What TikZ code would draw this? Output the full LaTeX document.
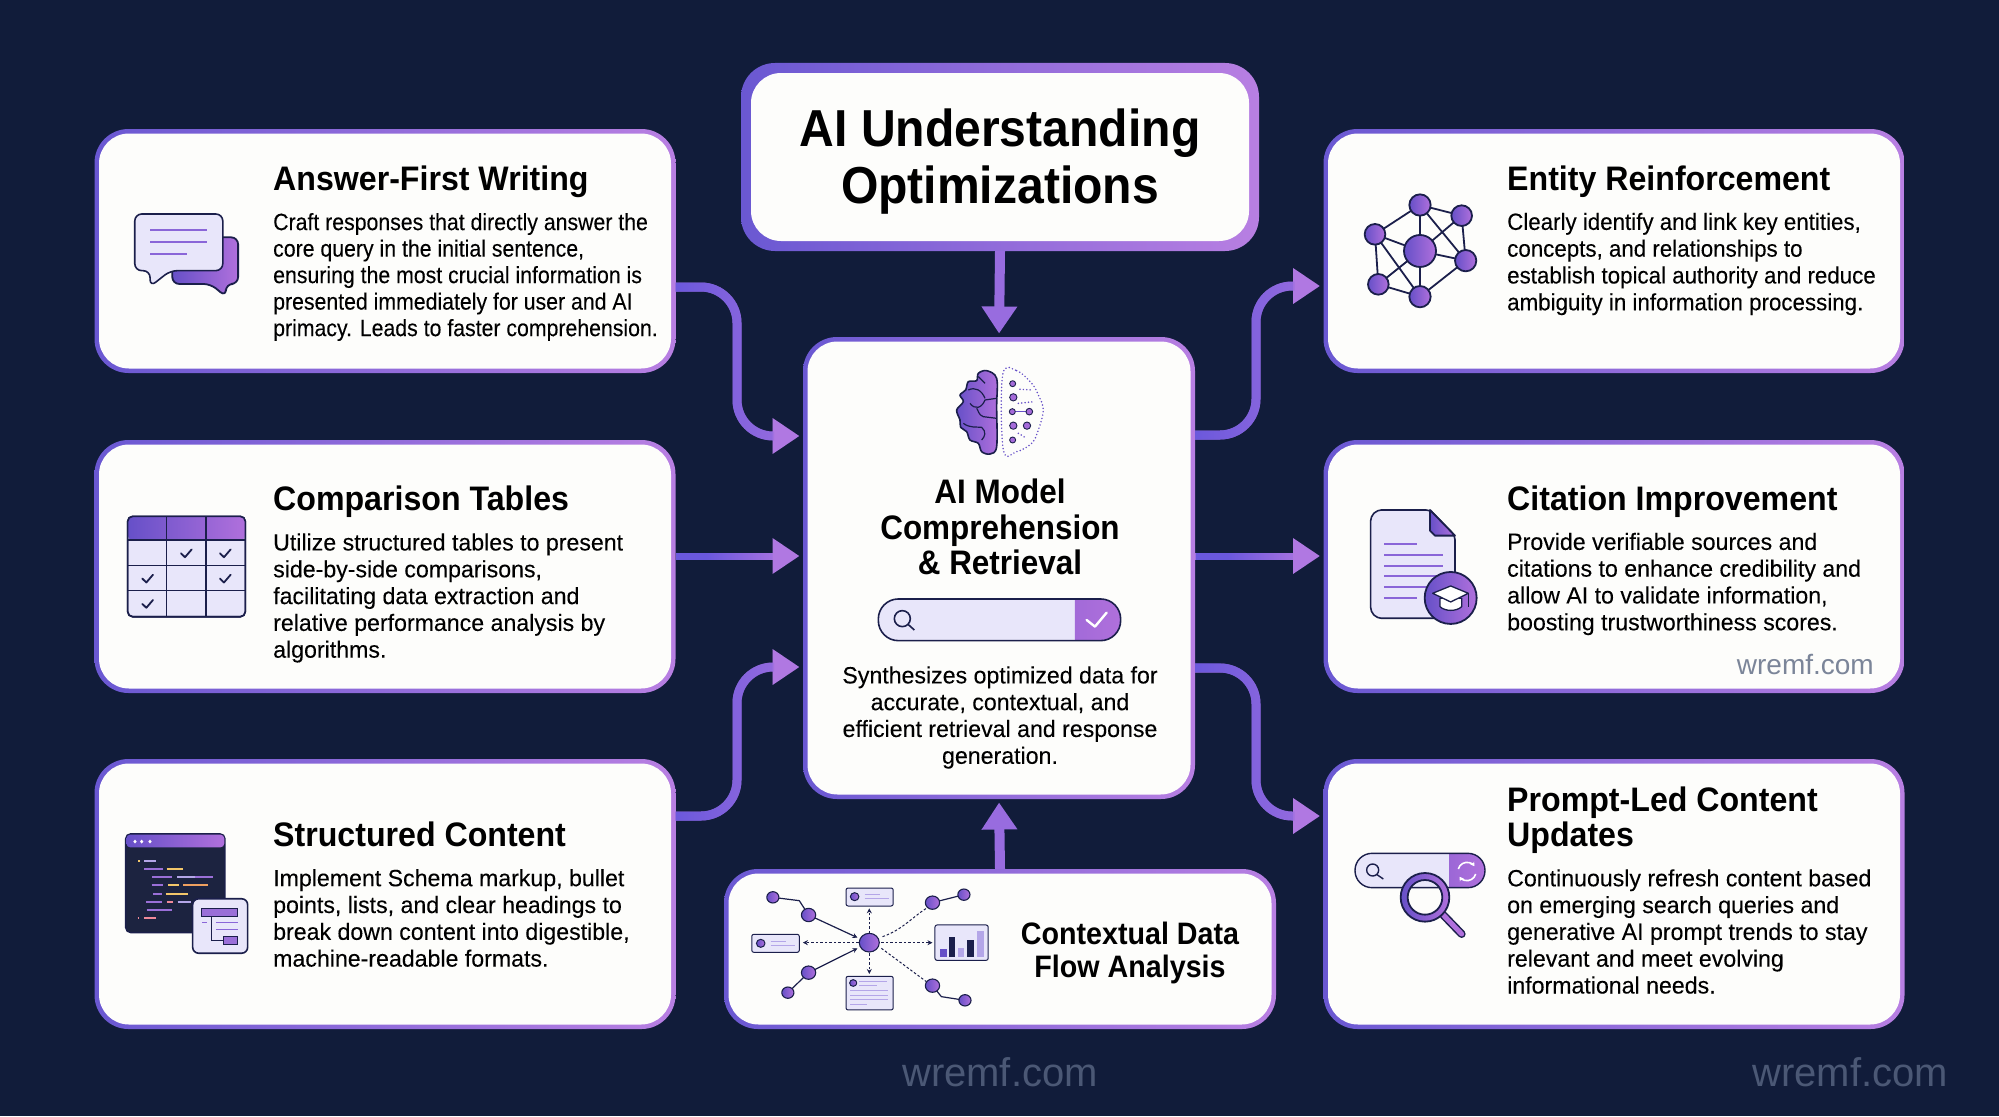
\documentclass[tikz,border=0pt]{standalone}
\usepackage{fontspec}
\usetikzlibrary{arrows.meta,calc,fadings}
\setmainfont{Liberation Sans}
\newfontfamily\bodyfont[FakeStretch=0.985,FakeBold=0.12]{Liberation Sans}
\newfontfamily\bodyans[FakeStretch=0.905,FakeBold=0.12]{Liberation Sans}
\newfontfamily\bodyent[FakeStretch=0.95,FakeBold=0.12]{Liberation Sans}
\newfontfamily\headfont[FakeStretch=0.945]{Liberation Sans}
\newfontfamily\bigfont[FakeStretch=0.925]{Liberation Sans}
\definecolor{pagebg}{HTML}{111C3A}
\definecolor{cardfill}{HTML}{FDFDFB}
\definecolor{edgeA}{HTML}{6A58D2}
\definecolor{edgeB}{HTML}{B87FE2}
\definecolor{flowline}{HTML}{A070E0}
\definecolor{flowdeep}{HTML}{6A58DC}
\definecolor{flowtip}{HTML}{B078E2}
\definecolor{inkblue}{HTML}{1B1F4B}
\definecolor{paleicon}{HTML}{E8E6FA}
\definecolor{iconA}{HTML}{6650C8}
\definecolor{iconB}{HTML}{B070DC}
\definecolor{lineviolet}{HTML}{8A66D8}
\definecolor{codebg}{HTML}{1C2340}
\definecolor{codeP}{HTML}{9A6FD8}
\definecolor{codeL}{HTML}{B4A6E8}
\definecolor{codeY}{HTML}{F2C66A}
\definecolor{codeO}{HTML}{EFA060}
\definecolor{codeR}{HTML}{F08A9A}
\definecolor{markdim}{HTML}{4B5875}
\definecolor{markbox}{HTML}{7B8599}
\tikzset{
  card/.style={rectangle,rounded corners=34pt,left color=edgeA,right color=edgeB,inner sep=0pt,outer sep=0pt},
  flowbase/.style={draw=flowline,line width=9pt,rounded corners=36pt,shorten >=3.5pt,
    -{Triangle[length=27pt,width=34pt,color=flowtip]}},
  flow/.style={flowbase,postaction={draw=flowdeep,path fading=east}},
  flowbar/.style={flowbase,line width=7pt,postaction={draw=flowdeep,path fading=east,fit fading=false,
    fading transform={shift={(#1,556)},xscale=1.25}}},
  flowplain/.style={draw=flowline!85!flowdeep,line width=10pt,shorten >=3.5pt,
    -{Triangle[length=27pt,width=34pt,color=flowline!85!flowdeep]}},
  headtext/.style={inner sep=0pt,font=\headfont\bfseries\fontsize{34}{35.5}\selectfont,align=left,text=black},
  bodytext/.style={inner sep=0pt,font=\bodyfont\fontsize{23.5}{26.8}\selectfont,align=left,text=black},
  orb/.style={left color=iconA,right color=iconB,draw=inkblue,line width=1.8pt},
  pale/.style={fill=paleicon,draw=inkblue,line width=1.6pt},
  ruleline/.style={draw=lineviolet,line width=1.9pt},
  tick/.style={draw=inkblue,line width=1.8pt,line cap=round,line join=round},
  flowdash/.style={draw=inkblue,line width=1pt,dash pattern=on 2.5pt off 2pt,-{Stealth[length=5pt,width=5pt]}}
}
\begin{document}
\begin{tikzpicture}[x=1pt,y=-1pt]
  \useasboundingbox (0,0) rectangle (1999,1116);
  \fill[pagebg] (0,0) rectangle (1999,1116);
  % cards
  \foreach \cardname/\cx/\cy/\cw/\ch/\bw in {
    ans/385/251/581/244/4.5, cmp/385/566.5/581/253/4.5, struct/385/894/581/270/4.5,
    ent/1614/251/581/244/4.5, cit/1614/566.5/581/253/4.5, prompt/1614/894/581/270/4.5,
    title/1000/157/518/188/10, model/999/568/392/462/4.5, flowbox/1000/949/552/160/4.5} {
    \node[card,minimum width=\cw pt,minimum height=\ch pt] (\cardname) at (\cx,\cy) {};
    \fill[cardfill,rounded corners=30pt] ($(\cardname.south west)+(\bw,-\bw)$) rectangle ($(\cardname.north east)+(-\bw,\bw)$);
  }
  % connectors
  \draw[flow] ([yshift=-36pt]ans.east) -- (737,287) -- (737,436) -- ([yshift=132pt]model.west);
  \draw[flowbar=737] ([yshift=10.5pt]cmp.east) -- ([yshift=12pt]model.west);
  \draw[flow] ([yshift=78pt]struct.east) -- (737,816) -- (737,667) -- ([yshift=-99pt]model.west);
  \draw[flow] ([yshift=133pt]model.east) -- (1256,435) -- (1256,286) -- ([yshift=-35pt]ent.west);
  \draw[flowbar=1258] ([yshift=12pt]model.east) -- ([yshift=10.5pt]cit.west);
  \draw[flow] ([yshift=-100pt]model.east) -- (1256,668) -- (1256,816) -- ([yshift=78pt]prompt.west);
  \draw[flowplain] (title.south) -- (model.north);
  \draw[flowplain] (flowbox.north) -- (model.south);
  % texts
  \node[headtext,font=\bigfont\bfseries\fontsize{52}{56.5}\selectfont,align=center] (titletext) at (1000,161.5) {AI Understanding\\Optimizations};
  \node[headtext,anchor=west] (anshead) at (273,182) {Answer-First Writing};
  \node[bodytext,font=\bodyans\fontsize{23.5}{26.5}\selectfont,anchor=west] (ansbody) at (273,277) {Craft responses that directly answer the\\core query in the initial sentence,\\ensuring the most crucial information is\\presented immediately for user and AI\\primacy. Leads to faster comprehension.};
  \node[headtext,anchor=west] (cmphead) at (273,502) {Comparison Tables};
  \node[bodytext,anchor=west] (cmpbody) at (273,598) {Utilize structured tables to present\\side-by-side comparisons,\\facilitating data extraction and\\relative performance analysis by\\algorithms.};
  \node[headtext,anchor=west] (structhead) at (273,834.5) {Structured Content};
  \node[bodytext,anchor=west] (structbody) at (273,918) {Implement Schema markup, bullet\\points, lists, and clear headings to\\break down content into digestible,\\machine-readable formats.};
  \node[headtext,anchor=west] (enthead) at (1507,182) {Entity Reinforcement};
  \node[bodytext,font=\bodyent\fontsize{23.5}{26.8}\selectfont,anchor=west] (entbody) at (1507,264) {Clearly identify and link key entities,\\concepts, and relationships to\\establish topical authority and reduce\\ambiguity in information processing.};
  \node[headtext,anchor=west] (cithead) at (1507,502) {Citation Improvement};
  \node[bodytext,anchor=west] (citbody) at (1507,584) {Provide verifiable sources and\\citations to enhance credibility and\\allow AI to validate information,\\boosting trustworthiness scores.};
  \node[headtext,anchor=west] (prompthead) at (1507,820) {Prompt-Led Content\\Updates};
  \node[bodytext,anchor=west] (promptbody) at (1507,931.5) {Continuously refresh content based\\on emerging search queries and\\generative AI prompt trends to stay\\relevant and meet evolving\\informational needs.};
  \node[headtext,font=\bigfont\bfseries\fontsize{34}{35.5}\selectfont,align=center] (modelhead) at (1000,527) {AI Model\\Comprehension\\\& Retrieval};
  \node[bodytext,align=center] (modelbody) at (1000,717.5) {Synthesizes optimized data for\\accurate, contextual, and\\efficient retrieval and response\\generation.};
  \node[headtext,align=center,font=\bigfont\bfseries\fontsize{31}{32.5}\selectfont] (flowhead) at (1130,953) {Contextual Data\\Flow Analysis};
  \node[inner sep=0pt,text=markbox,font=\fontsize{28}{30}\selectfont,anchor=east] (markcit) at (1874,664) {wremf.com};
  \node[inner sep=0pt,text=markdim,font=\fontsize{40}{44}\selectfont] (markmid) at (1000,1072) {wremf.com};
  \node[inner sep=0pt,text=markdim,font=\fontsize{40}{44}\selectfont] (markright) at (1850,1072) {wremf.com};
  % chat icon
  \begin{scope}[shift={(90,120)},x=0.3827pt,y=-0.3333pt,line join=round]
    \draw[orb,rounded corners=7pt] (215,352) -- (387,352) -- (387,492) -- (355,492) -- (355,530) -- (315,492) -- (215,492) -- cycle;
    \draw[pale,rounded corners=7pt] (117,282) -- (347,282) -- (347,452) -- (210,452) -- (157,500) -- (157,452) -- (117,452) -- cycle;
    \foreach \ya/\xb in {330/307,367/307,403/253}
      \draw[ruleline] (157,\ya) -- (\xb,\ya);
  \end{scope}
  % table icon
  \begin{scope}[shift={(90,430)},x=0.3333pt,y=-0.389pt]
    \draw[pale,rounded corners=5pt] (113,222) rectangle (466,480);
    \shade[left color=iconA,right color=iconB,rounded corners=5pt] (113,222) rectangle (466,283);
    \draw[inkblue,line width=1.6pt,rounded corners=5pt] (113,222) rectangle (466,480);
    \foreach \ya in {283,348,413}
      \draw[inkblue,line width=1.6pt] (113,\ya) -- (466,\ya);
    \foreach \xa in {230,348}
      \draw[inkblue,line width=1.6pt] (\xa,222) -- (\xa,480);
    \foreach \xa/\ya in {288/317,405/317,172/382,405/382,172/447}
      \draw[tick] (\xa-15,\ya) -- (\xa-3,\ya+10) -- (\xa+17,\ya-10);
  \end{scope}
  % code icon
  \begin{scope}[shift={(90,430)},x=0.3333pt,y=-0.389pt]
    \draw[fill=codebg,draw=inkblue,line width=1.4pt,rounded corners=5pt] (107,1038) rectangle (405,1292);
    \shade[left color=iconA,right color=iconB,rounded corners=4pt] (109,1040) rectangle (403,1073);
    \foreach \xa in {135,155,180}
      \fill[white] (\xa,1058) circle[radius=5];
    \foreach \xa/\xb/\ya/\codecol in {145/150/1107/codeY,163/197/1107/codeL,163/218/1128/codeP,230/278/1128/codeY,187/247/1150/codeP,262/315/1150/codeL,315/370/1150/codeP,185/220/1170/codeP,235/268/1170/codeY,280/353/1170/codeO,190/215/1192/codeP,227/293/1192/codeY,168/217/1213/codeP,230/248/1213/codeR,263/303/1213/codeL,170/245/1234/codeP,143/148/1255/codeR,163/197/1255/codeR}
      \draw[\codecol,line width=2pt] (\xa,\ya) -- (\xb,\ya);
    \draw[pale,rounded corners=6pt] (308,1205) rectangle (473,1345);
    \draw[fill=codeP,draw=inkblue,line width=1pt] (335,1230) rectangle (443,1250);
    \draw[ruleline,line width=1pt] (337,1267) -- (350,1267) (378,1267) -- (445,1267) (378,1285) -- (445,1285);
    \draw[inkblue,line width=1.2pt] (365,1250) -- (365,1313) -- (400,1313);
    \draw[fill=codeP,draw=inkblue,line width=1pt] (400,1303) rectangle (443,1322);
  \end{scope}
  % entity icon
  \begin{scope}[shift={(1320,170)},x=0.3333pt,y=-0.3333pt]
    \coordinate (hub) at (300,243);
    \coordinate (na) at (300,105);
    \coordinate (nb) at (425,137);
    \coordinate (nc) at (437,272);
    \coordinate (nd) at (300,380);
    \coordinate (ne) at (175,343);
    \coordinate (nf) at (165,193);
    \foreach \from/\to in {hub/na,hub/nb,hub/nc,hub/nd,hub/ne,hub/nf,na/nb,nb/nc,nc/nd,nd/ne,ne/nf,nf/na,na/nc,nf/nd}
      \draw[inkblue,line width=1.8pt] (\from) -- (\to);
    \foreach \orbname/\orbr in {na/32,nb/31,nc/32,nd/32,ne/31,nf/31,hub/48}
      \draw[orb] (\orbname) circle[radius=\orbr];
  \end{scope}
  % citation icon
  \begin{scope}[shift={(1320,170)},x=0.3333pt,y=-0.3333pt,line join=round]
    \draw[pale,rounded corners=4pt] (330,1020) -- (172,1020) -- (152,1040) -- (152,1325) -- (172,1345) -- (385,1345) -- (405,1325) -- (405,1097) -- cycle;
    \draw[orb] (330,1020) -- (405,1097) -- (345,1097) -- (330,1082) -- cycle;
    \foreach \ya/\xb in {1121/290,1154/368,1187/368,1219/368,1251/340,1284/290}
      \draw[ruleline] (192,\ya) -- (\xb,\ya);
    \draw[orb] (392,1284) circle[radius=78];
    \draw[fill=white,draw=inkblue,line width=1.3pt] (360,1285) -- (360,1310) .. controls (375,1325) and (410,1325) .. (425,1310) -- (425,1285) -- cycle;
    \draw[fill=white,draw=inkblue,line width=1.3pt] (338,1270) -- (392,1248) -- (445,1270) -- (392,1296) -- cycle;
    \draw[inkblue,line width=1.3pt] (445,1270) -- (445,1312);
  \end{scope}
  % search icon
  \begin{scope}[shift={(1320,820)},x=0.3333pt,y=-0.3333pt]
    \fill[paleicon,rounded corners=17pt] (105,100) rectangle (495,203);
    \begin{scope}
      \clip (388,90) rectangle (505,215);
      \shade[left color=iconA,right color=iconB,rounded corners=17pt] (105,100) rectangle (495,203);
    \end{scope}
    \draw[inkblue,line width=1.4pt,rounded corners=17pt] (105,100) rectangle (495,203);
    \draw[inkblue,line width=1.4pt] (158,150) circle[radius=18] (171,164) -- (190,177);
    \draw[white,line width=1.6pt,-{Stealth[length=4pt,width=5pt]}] (415,147) arc[start angle=195,end angle=325,radius=27];
    \draw[white,line width=1.6pt,-{Stealth[length=4pt,width=5pt]}] (467,162) arc[start angle=15,end angle=145,radius=27];
    \draw[inkblue,line width=8pt,line cap=round] (370,285) -- (425,342);
    \draw[iconB,line width=5pt,line cap=round] (370,285) -- (425,342);
    \draw[orb,even odd rule] (315,232) circle[radius=73] (315,232) circle[radius=52];
  \end{scope}
  % brain icon
  \begin{scope}[shift={(800,340)},x=0.3333pt,y=-0.3333pt,line join=round]
    \draw[orb,line width=1.6pt] plot[smooth cycle,tension=0.55] coordinates {(560,92) (535,100) (530,122) (505,125) (497,150) (480,165) (490,185) (470,210) (480,240) (482,262) (500,275) (510,300) (535,310) (545,335) (570,342) (590,320) (590,200) (590,115)};
    \draw[inkblue,line width=1.2pt] (505,150) .. controls (525,140) and (545,150) .. (555,175) (590,175) -- (555,180) .. controls (545,205) and (525,210) .. (510,190) (590,235) -- (550,230) .. controls (535,225) and (535,210) .. (530,205) (490,250) .. controls (510,265) and (530,260) .. (545,262) .. controls (560,275) and (555,290) .. (545,300) (535,110) -- (555,130);
    \draw[iconA,line width=1.7pt,line cap=round,dash pattern=on 0pt off 3.4pt] plot[smooth cycle,tension=0.6] coordinates {(608,105) (650,92) (695,130) (715,165) (730,210) (715,270) (695,310) (650,335) (610,330)};
    \draw[iconA,line width=1.2pt] (637,215) -- (688,215);
    \draw[iconA,line width=1.7pt,dash pattern=on 0pt off 3.4pt,line cap=round] (660,148) -- (700,150) (655,190) -- (705,185) (655,280) -- (680,295);
    \foreach \xa/\ya/\orbr in {638/131/9,640/172/11,637/215/9,688/215/10,640/257/11,681/257/11,638/300/9}
      \draw[fill=iconB!85!iconA,draw=inkblue,line width=0.9pt] (\xa,\ya) circle[radius=\orbr];
    % search bar
    \fill[paleicon,rounded corners=20pt] (235,777) rectangle (962,902);
    \begin{scope}
      \clip (825,770) rectangle (970,910);
      \shade[left color=iconA,right color=iconB,rounded corners=20pt] (235,777) rectangle (962,902);
    \end{scope}
    \draw[inkblue,line width=1.6pt,rounded corners=20pt] (235,777) rectangle (962,902);
    \draw[inkblue,line width=1.6pt] (307,836) circle[radius=24] (324,853) -- (343,870);
    \draw[white,line width=2.4pt,line cap=round] (860,840) -- (885,860) -- (920,818);
  \end{scope}
  % flow icon
  \begin{scope}[shift={(720,800)},x=0.3571pt,y=-0.3333pt,line join=round]
    \draw[inkblue,line width=1.2pt] (148,292) -- (222,302) -- (248,345) (190,578) -- (248,518) (595,308) -- (683,284) (595,557) -- (620,590) -- (686,601);
    \draw[inkblue,line width=1.2pt,-{Stealth[length=5pt,width=5pt]}] (248,345) -- (385,413);
    \draw[inkblue,line width=1.2pt,-{Stealth[length=5pt,width=5pt]}] (248,518) -- (385,445);
    \draw[flowdash] (418,400) -- (418,325);
    \draw[flowdash] (388,428) -- (232,428);
    \draw[flowdash] (452,428) -- (595,428);
    \draw[flowdash] (418,460) -- (418,522);
    \draw[inkblue,line width=1pt,dash pattern=on 2.5pt off 2pt] (455,410) .. controls (510,390) and (540,350) .. (578,325);
    \draw[inkblue,line width=1pt,dash pattern=on 2.5pt off 2pt] (452,445) -- (578,545);
    \foreach \xa/\ya/\orbr in {148/292/17,248/345/20,595/308/20,683/284/17,248/518/20,190/578/17,595/557/20,686/601/17,418/428/28}
      \draw[orb,line width=1.1pt] (\xa,\ya) circle[radius=\orbr];
    \foreach \xa/\xb/\ya/\yb/\xc/\yc in {353/485/264/318/377/290,89/222/403/457/114/430} {
      \draw[pale,line width=1pt,rounded corners=2pt] (\xa,\ya) rectangle (\xb,\yb);
      \draw[orb,line width=1pt] (\xc,\yc) circle[radius=12];
      \draw[codeL,line width=0.8pt] (\xc+28,\yc-6) -- (\xc+70,\yc-6) (\xc+28,\yc+6) -- (\xc+95,\yc+6);
    }
    \draw[pale,line width=1pt,rounded corners=2pt] (353,529) rectangle (485,630);
    \draw[orb,line width=1pt] (373,549) circle[radius=10];
    \draw[codeL,line width=0.8pt] (390,543) -- (468,543) (390,557) -- (440,557) (365,572) -- (470,572) (365,585) -- (470,585) (365,599) -- (470,599) (365,613) -- (412,613);
    \draw[pale,line width=1pt,rounded corners=2pt] (602,375) rectangle (751,481);
    \foreach \xa/\ya/\barcol in {617/447/iconA,641/412/inkblue,666/444/codeL,693/420/inkblue,720/392/codeL}
      \fill[\barcol] (\xa,\ya) rectangle (\xa+18,470);
  \end{scope}
\end{tikzpicture}
\end{document}
